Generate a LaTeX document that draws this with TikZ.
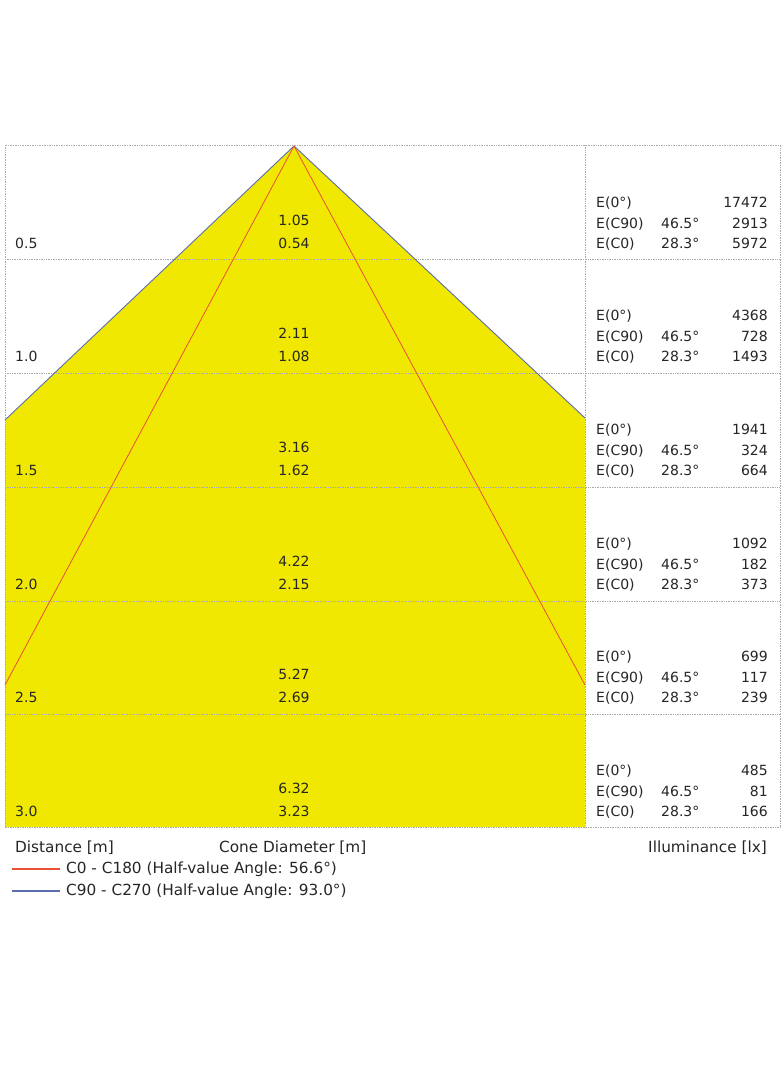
\documentclass[tikz,border=0pt]{standalone}
\usepackage{fontspec}
\setmainfont{DejaVu Sans}

\definecolor{conefill}{RGB}{240,232,0}
\definecolor{gridgray}{RGB}{170,170,170}
\definecolor{halfred}{RGB}{235,80,55}
\definecolor{halfblue}{RGB}{90,110,175}

\tikzset{
	grid/.style={gridgray, densely dotted, line width=0.7pt},
	redline/.style={halfred, line width=0.8pt},
	blueline/.style={halfblue, line width=0.9pt},
	lbl/.style={font=\fontsize{14}{16}\selectfont, inner sep=0pt, text=black!85},
	legendlbl/.style={font=\fontsize{15.3}{17}\selectfont, inner sep=0pt, text=black!85}
}

\begin{document}
\begin{tikzpicture}[x=1pt, y=-1pt]
		\useasboundingbox[fill=white] (0,0) rectangle (784,1066);

		\coordinate (apex) at (294,146);
		\coordinate (bl) at (5,420);
		\coordinate (br) at (585,418);
		\coordinate (rl) at (5,685);
		\coordinate (rr) at (585,685);

		% cone
		\fill[conefill] (apex) -- (bl) -- (5,827) -- (585,827) -- (br) -- cycle;

		% grid
		\foreach \y in {259,373,487,601,714}
			\draw[grid] (5,\y) -- (780,\y);
		\draw[grid] (585,145) -- (585,827);
		\draw[grid] (5,145) rectangle (780,827);

		\path[blueline] (bl) edge (apex);
		\path[blueline] (apex) edge (br);
		\path[redline] (rl) edge (apex);
		\path[redline] (apex) edge (rr);

		% rows
		\foreach \i/\d/\c/\h/\ea/\eb/\ec in {0/0.5/1.05/0.54/17472/2913/5972,
				1/1.0/2.11/1.08/4368/728/1493, 2/1.5/3.16/1.62/1941/324/664,
				3/2.0/4.22/2.15/1092/182/373, 4/2.5/5.27/2.69/699/117/239,
				5/3.0/6.32/3.23/485/81/166} {
			\pgfmathsetmacro{\t}{145+113.7*\i}
			\node[lbl, anchor=base west] (dist\i) at (15,\t+103) {\d};
			\node[lbl, anchor=base] (cone\i) at (294,\t+80) {\c};
			\node[lbl, anchor=base] (half\i) at (294,\t+103) {\h};
			\node[lbl, anchor=base west] (ezero\i) at (596,\t+62) {E(0°)};
			\node[lbl, anchor=base west] (eninety\i) at (596,\t+83) {E(C90)};
			\node[lbl, anchor=base west] (enull\i) at (596,\t+103) {E(C0)};
			\node[lbl, anchor=base west] (angb\i) at (661,\t+83) {46.5°};
			\node[lbl, anchor=base west] (angc\i) at (661,\t+103) {28.3°};
			\node[lbl, anchor=base east] (vala\i) at (768,\t+62) {\ea};
			\node[lbl, anchor=base east] (valb\i) at (768,\t+83) {\eb};
			\node[lbl, anchor=base east] (valc\i) at (768,\t+103) {\ec};
		}

		% legend
		\node[legendlbl, anchor=base west] (distlbl) at (15,852) {Distance [m]};
		\node[legendlbl, anchor=base west] (conelbl) at (219,852) {Cone Diameter [m]};
		\node[legendlbl, anchor=base east] (illlbl) at (767,852) {Illuminance [lx]};

		\coordinate (redstart) at (12,869);
		\coordinate (bluestart) at (12,891);
		\node[legendlbl, anchor=west] (redlbl) at (66,869) {C0 - C180 (Half-value Angle: 56.6°)};
		\node[legendlbl, anchor=west] (bluelbl) at (66,891) {C90 - C270 (Half-value Angle: 93.0°)};
		\path[redline, line width=1.2pt] (redstart) edge ([xshift=-6pt]redlbl.west);
		\path[blueline, line width=1.2pt] (bluestart) edge ([xshift=-6pt]bluelbl.west);
	\end{tikzpicture}
\end{document}
